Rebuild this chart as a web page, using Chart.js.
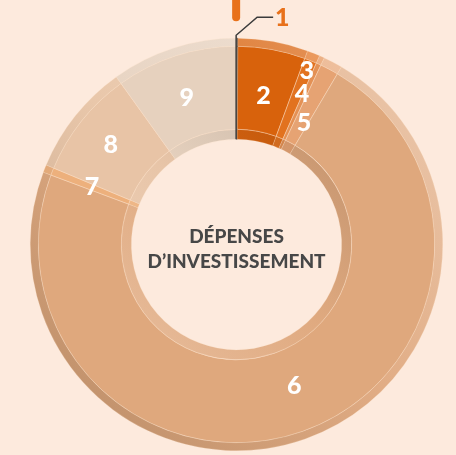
<!DOCTYPE html>
<html>
<head>
<meta charset="utf-8">
<script src="https://cdn.jsdelivr.net/npm/chart.js@4.4.1/dist/chart.umd.min.js"></script>
<style>
  html, body { margin: 0; padding: 0; background: #fdeadd; }
  #wrap { width: 456px; height: 455px; position: relative; }
</style>
</head>
<body>
<div id="wrap"><canvas id="chart-1"></canvas></div>
<script>
// Données (parts des dépenses d'investissement, en %)
var categories = ["1", "2", "3", "4", "5", "6", "7", "8", "9"];
var values = [0.1, 5.5, 1.0, 0.4, 1.5, 72.2, 0.6, 8.8, 9.9];
var centerTitle = ["DÉPENSES", "D\u2019INVESTISSEMENT"];

var baseColors = ["#3d3630", "#d8620c", "#e2721f", "#e49155", "#e6a373",
                  "#dfa87d", "#edb07c", "#e8c4a6", "#e6d1be"];

function mix(hex, amt) {
    var n = parseInt(hex.slice(1), 16);
    var r = (n >> 16) & 255, g = (n >> 8) & 255, b = n & 255;
    var t = amt > 0 ? 255 : 0, a = Math.abs(amt);
    r = Math.round(r + (t - r) * a);
    g = Math.round(g + (t - g) * a);
    b = Math.round(b + (t - b) * a);
    return "rgb(" + r + "," + g + "," + b + ")";
}

// bevel: light from top right, shadow bottom left
function rimColor(outer) {
    return function(ctx) {
        var chart = ctx.chart, area = chart.chartArea;
        var base = baseColors[ctx.dataIndex];
        if (!area || ctx.dataIndex === 0) return base;
        var cx = (area.left + area.right) / 2, cy = (area.top + area.bottom) / 2;
        var R = (area.right - area.left) / 2;
        var g = chart.ctx.createLinearGradient(cx - R * 0.7, cy + R * 0.7, cx + R * 0.7, cy - R * 0.7);
        if (outer) {
            g.addColorStop(0, mix(base, -0.12));
            g.addColorStop(0.5, mix(base, 0.05));
            g.addColorStop(1, mix(base, 0.3));
        } else {
            g.addColorStop(0, mix(base, 0.3));
            g.addColorStop(0.5, mix(base, 0.02));
            g.addColorStop(1, mix(base, -0.16));
        }
        return g;
    };
}

var borderCols = baseColors.map(function(c, i) { return i === 0 ? c : "rgba(250,222,198,0.45)"; });

var labelPlugin = {
    id: "sliceLabels",
    afterDatasetsDraw: function(chart) {
        var ctx = chart.ctx;
        var main = chart.getDatasetMeta(1).data;
        var outerArcs = chart.getDatasetMeta(0).data;
        var innerArcs = chart.getDatasetMeta(2).data;
        // radial position (0 = hole, 1 = outer edge) and angle nudge in degrees
        var place = [null, [0.46, 0], [0.82, 0], [0.59, -1.1], [0.34, 1.0],
                     [0.46, -2.9], [0.5, 0.4], [0.55, 0], [0.5, -0.8]];
        var rOut = outerArcs[0].outerRadius, rIn = innerArcs[0].innerRadius;
        ctx.save();
        ctx.textAlign = "center";
        ctx.textBaseline = "middle";
        ctx.font = "900 25px Lato";
        ctx.fillStyle = "#ffffff";
        for (var i = 1; i < main.length; i++) {
            var a = main[i];
            var ang = (a.startAngle + a.endAngle) / 2 + place[i][1] * Math.PI / 180;
            var r = rIn + place[i][0] * (rOut - rIn);
            ctx.fillText(categories[i], a.x + r * Math.cos(ang), a.y + r * Math.sin(ang) + 1);
        }

        // leader line for slice 1
        var s = main[0];
        var m = (s.startAngle + s.endAngle) / 2;
        var px = s.x + rOut * Math.cos(m) - 1, py = s.y + rOut * Math.sin(m);
        ctx.strokeStyle = "#3b3b3b";
        ctx.lineWidth = 1.5;
        ctx.beginPath();
        ctx.moveTo(px, s.y - rIn);
        ctx.lineTo(px, py - 3);
        ctx.lineTo(px + 21, py - 21);
        ctx.lineTo(px + 37, py - 21);
        ctx.stroke();
        ctx.fillStyle = "#e8711a";
        ctx.fillText(categories[0], px + 46, py - 20);

        // orange marker above the ring
        ctx.strokeStyle = "#e8711a";
        ctx.lineWidth = 8;
        ctx.lineCap = "round";
        ctx.beginPath();
        ctx.moveTo(px, py - 50);
        ctx.lineTo(px, py - 21);
        ctx.stroke();

        // center title
        ctx.fillStyle = "#474747";
        ctx.font = "900 19px Lato";
        ctx.fillText(centerTitle[0], s.x, s.y - 8);
        ctx.fillText(centerTitle[1], s.x, s.y + 17);
        ctx.restore();
    }
};

var ctx = document.getElementById("chart-1").getContext("2d");
var myChart = new Chart(ctx, {
    type: "doughnut",
    data: {
        labels: categories,
        datasets: [{
            data: values,
            backgroundColor: rimColor(true),
            borderColor: borderCols,
            borderWidth: 0.5,
            weight: 8
        }, {
            data: values,
            backgroundColor: baseColors,
            borderColor: borderCols,
            borderWidth: 1,
            weight: 83
        }, {
            data: values,
            backgroundColor: rimColor(false),
            borderColor: borderCols,
            borderWidth: 0.5,
            weight: 10
        }]
    },
    options: {
        responsive: true,
        maintainAspectRatio: false,
        animation: false,
        cutout: "51%",
        layout: { padding: { left: 30, right: 13, top: 38, bottom: 4 } },
        plugins: {
            legend: { display: false },
            tooltip: { enabled: false }
        }
    },
    plugins: [labelPlugin]
});
</script>
</body>
</html>
